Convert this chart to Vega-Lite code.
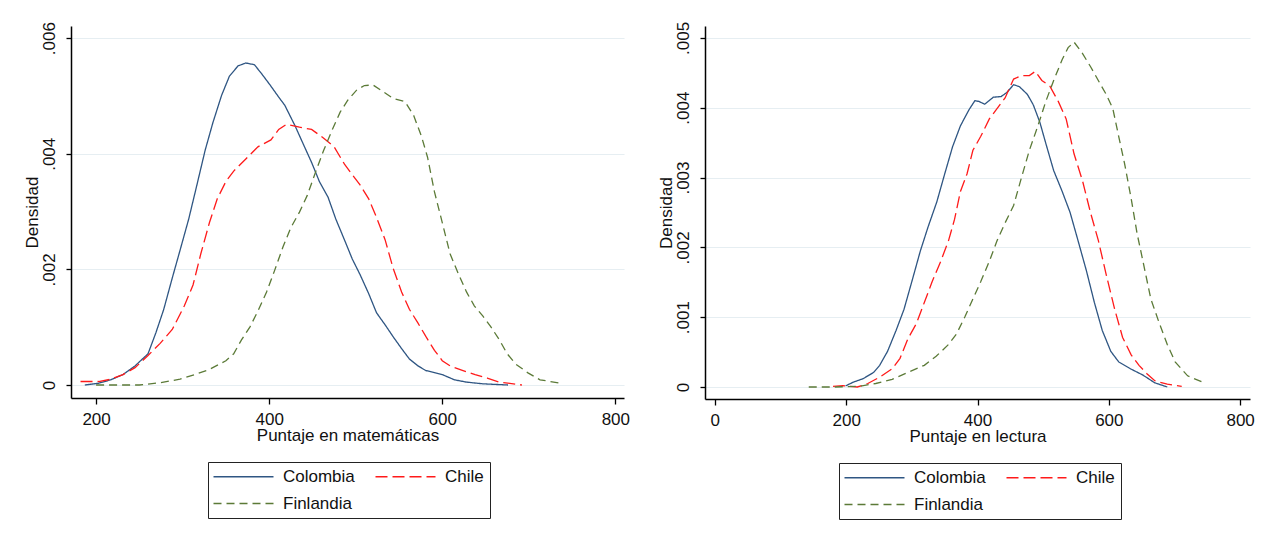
{
  "$schema": "https://vega.github.io/schema/vega-lite/v6.json",
  "background": "white",
  "padding": {"left": 22, "top": 21, "right": 5, "bottom": 5},
  "spacing": 27,
  "config": {
    "font": "Liberation Sans",
    "view": {"stroke": null},
    "axis": {
      "domainColor": "black", "domainWidth": 1.5, "tickColor": "black", "tickWidth": 1.3,
      "labelColor": "#111", "titleColor": "#111", "labelFontSize": 17, "titleFontSize": 17,
      "titleFontWeight": "normal", "gridColor": "#e6eef2", "gridWidth": 1.2
    },
    "legend": {
      "orient": "none", "direction": "horizontal", "columns": 2, "symbolType": "M-1.8,0H10.2",
      "symbolSize": 100, "symbolStrokeWidth": 1.6, "labelFontSize": 17, "labelColor": "#111",
      "labelOffset": 52, "columnPadding": 17, "rowPadding": 9, "strokeColor": "#222",
      "padding": 6, "title": null
    }
  },
  "datasets": {
    "math": [
      {"country":"Colombia","score":187,"density":0},{"country":"Colombia","score":203,"density":0.00003},{"country":"Colombia","score":217,"density":0.00009},{"country":"Colombia","score":231,"density":0.00018},{"country":"Colombia","score":245,"density":0.00033},{"country":"Colombia","score":260,"density":0.00054},{"country":"Colombia","score":269,"density":0.0009},{"country":"Colombia","score":278,"density":0.0013},{"country":"Colombia","score":288,"density":0.00185},{"country":"Colombia","score":297,"density":0.00233},{"country":"Colombia","score":307,"density":0.00287},{"country":"Colombia","score":316,"density":0.00343},{"country":"Colombia","score":326,"density":0.00406},{"country":"Colombia","score":335,"density":0.00454},{"country":"Colombia","score":345,"density":0.00501},{"country":"Colombia","score":354,"density":0.00534},{"country":"Colombia","score":364,"density":0.00552},{"country":"Colombia","score":373,"density":0.00557},{"country":"Colombia","score":383,"density":0.00554},{"country":"Colombia","score":392,"density":0.00537},{"country":"Colombia","score":401,"density":0.00519},{"country":"Colombia","score":411,"density":0.00498},{"country":"Colombia","score":418,"density":0.00484},{"country":"Colombia","score":430,"density":0.00448},{"country":"Colombia","score":439,"density":0.00418},{"country":"Colombia","score":449,"density":0.00385},{"country":"Colombia","score":458,"density":0.00352},{"country":"Colombia","score":468,"density":0.00325},{"country":"Colombia","score":477,"density":0.00287},{"country":"Colombia","score":487,"density":0.00251},{"country":"Colombia","score":496,"density":0.00218},{"country":"Colombia","score":505,"density":0.00191},{"country":"Colombia","score":515,"density":0.00158},{"country":"Colombia","score":524,"density":0.00125},{"country":"Colombia","score":534,"density":0.00104},{"country":"Colombia","score":543,"density":0.00084},{"country":"Colombia","score":553,"density":0.00063},{"country":"Colombia","score":562,"density":0.00045},{"country":"Colombia","score":572,"density":0.00033},{"country":"Colombia","score":581,"density":0.00025},{"country":"Colombia","score":600,"density":0.00018},{"country":"Colombia","score":614,"density":0.00009},{"country":"Colombia","score":628,"density":0.00005},{"country":"Colombia","score":647,"density":0.00002},{"country":"Colombia","score":676,"density":0},
      {"country":"Chile","score":182,"density":0.00006},{"country":"Chile","score":203,"density":0.00006},{"country":"Chile","score":217,"density":0.0001},{"country":"Chile","score":231,"density":0.00018},{"country":"Chile","score":245,"density":0.0003},{"country":"Chile","score":260,"density":0.00051},{"country":"Chile","score":274,"density":0.00072},{"country":"Chile","score":288,"density":0.00096},{"country":"Chile","score":302,"density":0.00137},{"country":"Chile","score":312,"density":0.00173},{"country":"Chile","score":321,"density":0.00227},{"country":"Chile","score":331,"density":0.00281},{"country":"Chile","score":340,"density":0.00322},{"country":"Chile","score":350,"density":0.00352},{"country":"Chile","score":359,"density":0.0037},{"country":"Chile","score":373,"density":0.00391},{"country":"Chile","score":387,"density":0.00412},{"country":"Chile","score":402,"density":0.00424},{"country":"Chile","score":411,"density":0.00442},{"country":"Chile","score":420,"density":0.00451},{"country":"Chile","score":435,"density":0.00446},{"country":"Chile","score":449,"density":0.00442},{"country":"Chile","score":463,"density":0.00427},{"country":"Chile","score":475,"density":0.00412},{"country":"Chile","score":487,"density":0.00382},{"country":"Chile","score":496,"density":0.00364},{"country":"Chile","score":505,"density":0.00346},{"country":"Chile","score":515,"density":0.00322},{"country":"Chile","score":524,"density":0.0029},{"country":"Chile","score":534,"density":0.00251},{"country":"Chile","score":543,"density":0.00203},{"country":"Chile","score":553,"density":0.00161},{"country":"Chile","score":562,"density":0.00131},{"country":"Chile","score":572,"density":0.00107},{"country":"Chile","score":581,"density":0.00084},{"country":"Chile","score":591,"density":0.0006},{"country":"Chile","score":600,"density":0.00042},{"country":"Chile","score":609,"density":0.00033},{"country":"Chile","score":624,"density":0.00025},{"country":"Chile","score":638,"density":0.00018},{"country":"Chile","score":652,"density":0.00012},{"country":"Chile","score":666,"density":0.00005},{"country":"Chile","score":692,"density":0},
      {"country":"Finlandia","score":200,"density":0},{"country":"Finlandia","score":250,"density":0},{"country":"Finlandia","score":274,"density":0.00004},{"country":"Finlandia","score":297,"density":0.0001},{"country":"Finlandia","score":316,"density":0.00019},{"country":"Finlandia","score":331,"density":0.00027},{"country":"Finlandia","score":350,"density":0.00042},{"country":"Finlandia","score":359,"density":0.00054},{"country":"Finlandia","score":368,"density":0.00078},{"country":"Finlandia","score":378,"density":0.00101},{"country":"Finlandia","score":387,"density":0.00128},{"country":"Finlandia","score":397,"density":0.00161},{"country":"Finlandia","score":406,"density":0.00197},{"country":"Finlandia","score":416,"density":0.00239},{"country":"Finlandia","score":425,"density":0.00272},{"country":"Finlandia","score":435,"density":0.00299},{"country":"Finlandia","score":444,"density":0.00328},{"country":"Finlandia","score":454,"density":0.0037},{"country":"Finlandia","score":463,"density":0.00406},{"country":"Finlandia","score":473,"density":0.00442},{"country":"Finlandia","score":482,"density":0.00472},{"country":"Finlandia","score":491,"density":0.00493},{"country":"Finlandia","score":501,"density":0.0051},{"country":"Finlandia","score":510,"density":0.00518},{"country":"Finlandia","score":520,"density":0.00519},{"country":"Finlandia","score":529,"density":0.0051},{"country":"Finlandia","score":543,"density":0.00496},{"country":"Finlandia","score":557,"density":0.0049},{"country":"Finlandia","score":567,"density":0.00466},{"country":"Finlandia","score":576,"density":0.0043},{"country":"Finlandia","score":583,"density":0.00394},{"country":"Finlandia","score":591,"density":0.00334},{"country":"Finlandia","score":600,"density":0.00281},{"country":"Finlandia","score":609,"density":0.00227},{"country":"Finlandia","score":619,"density":0.00191},{"country":"Finlandia","score":628,"density":0.00161},{"country":"Finlandia","score":637,"density":0.00137},{"country":"Finlandia","score":647,"density":0.00119},{"country":"Finlandia","score":656,"density":0.00101},{"country":"Finlandia","score":666,"density":0.00078},{"country":"Finlandia","score":675,"density":0.00054},{"country":"Finlandia","score":685,"density":0.00036},{"country":"Finlandia","score":699,"density":0.00021},{"country":"Finlandia","score":713,"density":0.00009},{"country":"Finlandia","score":737,"density":0.00003}
    ],
    "read": [
      {"country":"Colombia","score":199,"density":0.000015},{"country":"Colombia","score":211,"density":0.00007},{"country":"Colombia","score":226,"density":0.00012},{"country":"Colombia","score":242,"density":0.00021},{"country":"Colombia","score":251,"density":0.00031},{"country":"Colombia","score":263,"density":0.00051},{"country":"Colombia","score":276,"density":0.00081},{"country":"Colombia","score":288,"density":0.00111},{"country":"Colombia","score":300,"density":0.00151},{"country":"Colombia","score":313,"density":0.00195},{"country":"Colombia","score":325,"density":0.0023},{"country":"Colombia","score":338,"density":0.00265},{"country":"Colombia","score":350,"density":0.00305},{"country":"Colombia","score":362,"density":0.00344},{"country":"Colombia","score":374,"density":0.00374},{"country":"Colombia","score":387,"density":0.00397},{"country":"Colombia","score":396,"density":0.0041},{"country":"Colombia","score":402,"density":0.00409},{"country":"Colombia","score":411,"density":0.00405},{"country":"Colombia","score":424,"density":0.00415},{"country":"Colombia","score":436,"density":0.00416},{"country":"Colombia","score":445,"density":0.00422},{"country":"Colombia","score":455,"density":0.00433},{"country":"Colombia","score":464,"density":0.0043},{"country":"Colombia","score":476,"density":0.00419},{"country":"Colombia","score":485,"density":0.00404},{"country":"Colombia","score":495,"density":0.00379},{"country":"Colombia","score":504,"density":0.00349},{"country":"Colombia","score":516,"density":0.0031},{"country":"Colombia","score":529,"density":0.0028},{"country":"Colombia","score":541,"density":0.0025},{"country":"Colombia","score":553,"density":0.0021},{"country":"Colombia","score":566,"density":0.00166},{"country":"Colombia","score":578,"density":0.00121},{"country":"Colombia","score":590,"density":0.00081},{"country":"Colombia","score":603,"density":0.00051},{"country":"Colombia","score":615,"density":0.00036},{"country":"Colombia","score":633,"density":0.00026},{"country":"Colombia","score":652,"density":0.00017},{"country":"Colombia","score":670,"density":0.00006},{"country":"Colombia","score":689,"density":0},
      {"country":"Chile","score":180,"density":0.00001},{"country":"Chile","score":195,"density":0.00002},{"country":"Chile","score":217,"density":0},{"country":"Chile","score":233,"density":0.00005},{"country":"Chile","score":251,"density":0.00014},{"country":"Chile","score":270,"density":0.00026},{"country":"Chile","score":282,"density":0.00041},{"country":"Chile","score":294,"density":0.00069},{"country":"Chile","score":307,"density":0.00091},{"country":"Chile","score":319,"density":0.00121},{"country":"Chile","score":331,"density":0.00151},{"country":"Chile","score":344,"density":0.0018},{"country":"Chile","score":356,"density":0.0021},{"country":"Chile","score":365,"density":0.0024},{"country":"Chile","score":374,"density":0.0028},{"country":"Chile","score":384,"density":0.00305},{"country":"Chile","score":393,"density":0.00339},{"country":"Chile","score":405,"density":0.00359},{"country":"Chile","score":418,"density":0.00384},{"country":"Chile","score":430,"density":0.00399},{"country":"Chile","score":442,"density":0.00414},{"country":"Chile","score":455,"density":0.00441},{"country":"Chile","score":467,"density":0.00446},{"country":"Chile","score":479,"density":0.00446},{"country":"Chile","score":488,"density":0.00452},{"country":"Chile","score":498,"density":0.00439},{"country":"Chile","score":510,"density":0.00431},{"country":"Chile","score":523,"density":0.00409},{"country":"Chile","score":535,"density":0.00384},{"country":"Chile","score":547,"density":0.00334},{"country":"Chile","score":560,"density":0.00295},{"country":"Chile","score":572,"density":0.0025},{"country":"Chile","score":584,"density":0.0021},{"country":"Chile","score":596,"density":0.00161},{"country":"Chile","score":609,"density":0.00111},{"country":"Chile","score":621,"density":0.00071},{"country":"Chile","score":634,"density":0.00046},{"country":"Chile","score":646,"density":0.00031},{"country":"Chile","score":658,"density":0.00019},{"country":"Chile","score":670,"density":0.00009},{"country":"Chile","score":689,"density":0.00004},{"country":"Chile","score":711,"density":0.00001},
      {"country":"Finlandia","score":143,"density":0},{"country":"Finlandia","score":183,"density":0},{"country":"Finlandia","score":220,"density":0.00001},{"country":"Finlandia","score":245,"density":0.00005},{"country":"Finlandia","score":270,"density":0.00011},{"country":"Finlandia","score":294,"density":0.00021},{"country":"Finlandia","score":319,"density":0.00031},{"country":"Finlandia","score":337,"density":0.00044},{"country":"Finlandia","score":356,"density":0.00061},{"country":"Finlandia","score":368,"density":0.00076},{"country":"Finlandia","score":381,"density":0.00101},{"country":"Finlandia","score":393,"density":0.00126},{"country":"Finlandia","score":405,"density":0.00151},{"country":"Finlandia","score":418,"density":0.0018},{"country":"Finlandia","score":430,"density":0.0021},{"country":"Finlandia","score":442,"density":0.00235},{"country":"Finlandia","score":455,"density":0.0026},{"country":"Finlandia","score":467,"density":0.003},{"country":"Finlandia","score":479,"density":0.00339},{"country":"Finlandia","score":492,"density":0.00374},{"country":"Finlandia","score":504,"density":0.00409},{"country":"Finlandia","score":516,"density":0.00439},{"country":"Finlandia","score":529,"density":0.00469},{"country":"Finlandia","score":538,"density":0.00486},{"country":"Finlandia","score":547,"density":0.00494},{"country":"Finlandia","score":559,"density":0.00479},{"country":"Finlandia","score":572,"density":0.00459},{"country":"Finlandia","score":584,"density":0.00439},{"country":"Finlandia","score":596,"density":0.00419},{"country":"Finlandia","score":606,"density":0.00399},{"country":"Finlandia","score":615,"density":0.00359},{"country":"Finlandia","score":624,"density":0.0032},{"country":"Finlandia","score":634,"density":0.0027},{"country":"Finlandia","score":643,"density":0.0022},{"country":"Finlandia","score":652,"density":0.0018},{"country":"Finlandia","score":664,"density":0.00126},{"country":"Finlandia","score":677,"density":0.00091},{"country":"Finlandia","score":689,"density":0.00061},{"country":"Finlandia","score":701,"density":0.00036},{"country":"Finlandia","score":720,"density":0.00016},{"country":"Finlandia","score":745,"density":0.00006}
    ]
  },
  "resolve": {"scale": {"x": "independent", "y": "independent"}, "legend": {"color": "independent", "strokeDash": "independent"}},
  "hconcat": [
    {
      "data": {"name": "math"},
      "width": 553, "height": 372,
      "mark": {"type": "line", "strokeWidth": 1.3, "clip": false},
      "encoding": {
        "x": {"field": "score", "type": "quantitative", "title": "Puntaje en matemáticas",
          "scale": {"domain": [171, 810], "nice": false, "zero": false},
          "axis": {"values": [200, 400, 600, 800], "grid": false, "tickSize": 6, "labelPadding": 7, "titlePadding": 0}},
        "y": {"field": "density", "type": "quantitative", "title": "Densidad",
          "scale": {"domain": [-0.000225, 0.00621], "nice": false, "zero": false},
          "axis": {"values": [0, 0.002, 0.004, 0.006], "tickSize": 5, "labelPadding": 8, "titlePadding": -1,
            "labelAngle": -90, "labelAlign": "center", "labelBaseline": "bottom",
            "labelExpr": "datum.value == 0 ? '0' : replace(format(datum.value, '.3f'), '0.', '.')"}},
        "color": {"field": "country", "type": "nominal",
          "scale": {"domain": ["Colombia", "Chile", "Finlandia"], "range": ["#2f5683", "#ff1a1a", "#5b7a37"]},
          "legend": {"legendX": 137, "legendY": 436}},
        "strokeDash": {"field": "country", "type": "nominal",
          "scale": {"domain": ["Colombia", "Chile", "Finlandia"], "range": [[1, 0], [12, 5], [8, 5]]},
          "legend": {"legendX": 137, "legendY": 436}}
      }
    },
    {
      "data": {"name": "read"},
      "width": 545, "height": 373,
      "mark": {"type": "line", "strokeWidth": 1.3, "clip": false},
      "encoding": {
        "x": {"field": "score", "type": "quantitative", "title": "Puntaje en lectura",
          "scale": {"domain": [-15, 815], "nice": false, "zero": false},
          "axis": {"values": [0, 200, 400, 600, 800], "grid": false, "tickSize": 6, "labelPadding": 7, "titlePadding": 0}},
        "y": {"field": "density", "type": "quantitative", "title": "Densidad",
          "scale": {"domain": [-0.000172, 0.00517], "nice": false, "zero": false},
          "axis": {"values": [0, 0.001, 0.002, 0.003, 0.004, 0.005], "tickSize": 5, "labelPadding": 8, "titlePadding": -1,
            "labelAngle": -90, "labelAlign": "center", "labelBaseline": "bottom",
            "labelExpr": "datum.value == 0 ? '0' : replace(format(datum.value, '.3f'), '0.', '.')"}},
        "color": {"field": "country", "type": "nominal",
          "scale": {"domain": ["Colombia", "Chile", "Finlandia"], "range": ["#2f5683", "#ff1a1a", "#5b7a37"]},
          "legend": {"legendX": 134, "legendY": 437}},
        "strokeDash": {"field": "country", "type": "nominal",
          "scale": {"domain": ["Colombia", "Chile", "Finlandia"], "range": [[1, 0], [12, 5], [8, 5]]},
          "legend": {"legendX": 134, "legendY": 437}}
      }
    }
  ]
}
